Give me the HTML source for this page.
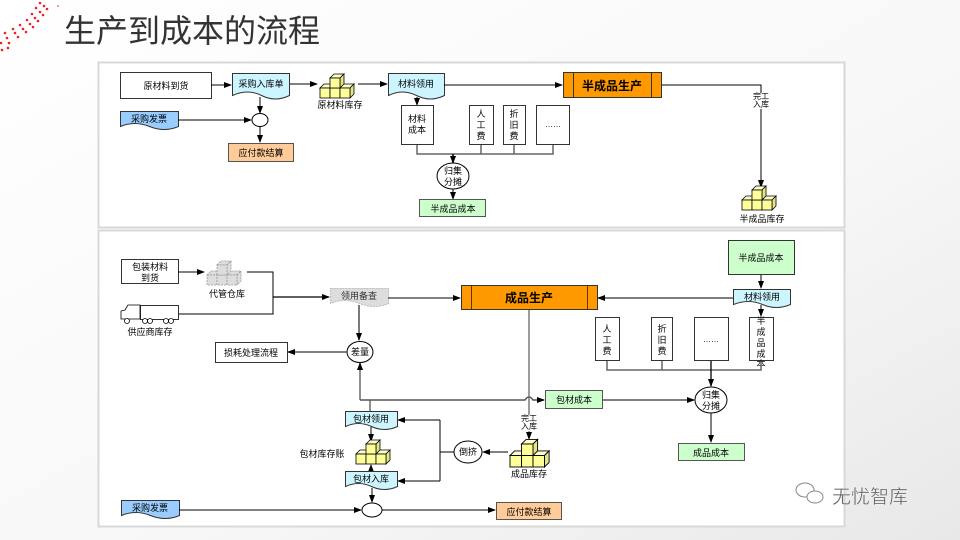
<!DOCTYPE html>
<html><head><meta charset="utf-8"><style>
html,body{margin:0;padding:0;width:960px;height:540px;overflow:hidden;background:#fff}
svg text{font-family:"Liberation Sans","Noto Sans CJK SC",sans-serif}
</style></head><body>
<svg width="960" height="540" viewBox="0 0 960 540" xmlns="http://www.w3.org/2000/svg">
<defs>
<linearGradient id="bg" x1="0" y1="0" x2="1" y2="1"><stop offset="0" stop-color="#ffffff"/><stop offset="0.6" stop-color="#f7f7f7"/><stop offset="1" stop-color="#e8e8e8"/></linearGradient>
<marker id="a" markerWidth="8" markerHeight="8" refX="7" refY="4" orient="auto" markerUnits="userSpaceOnUse"><path d="M0,1 L8,4 L0,7 z" fill="#000"/></marker>
<g id="cube"><g stroke="#000" stroke-width="0.8" fill="#ffff99">
<path d="M0,10 l4,-4 h30 l-4,4z" fill="#ffffcc"/><path d="M30,10 l4,-4 v10 l-4,4z" fill="#e6e680"/>
<rect x="0" y="10" width="10" height="10"/><rect x="10" y="10" width="10" height="10"/><rect x="20" y="10" width="10" height="10"/>
<path d="M10,0 l4,-4 h10 l-4,4z" fill="#ffffcc"/><path d="M20,0 l4,-4 v10 l-4,4z" fill="#e6e680"/>
<rect x="10" y="0" width="10" height="10"/></g></g>
<g id="cubeg"><g stroke="#999" stroke-width="0.8" stroke-dasharray="2,1" fill="#ddd">
<path d="M0,10 l4,-4 h30 l-4,4z"/><path d="M30,10 l4,-4 v10 l-4,4z"/>
<rect x="0" y="10" width="10" height="10"/><rect x="10" y="10" width="10" height="10"/><rect x="20" y="10" width="10" height="10"/>
<path d="M10,0 l4,-4 h10 l-4,4z"/><path d="M20,0 l4,-4 v10 l-4,4z"/><rect x="10" y="0" width="10" height="10"/></g></g>
</defs>
<rect width="960" height="540" fill="url(#bg)"/>
<g fill="#e8202a">
<circle cx="40" cy="3" r="1.3"/><circle cx="44" cy="6" r="1.3"/><circle cx="47" cy="9" r="1.3"/><circle cx="36" cy="8" r="1.3"/><circle cx="40" cy="12" r="1.3"/><circle cx="43" cy="15" r="1.3"/><circle cx="32" cy="14" r="1.3"/><circle cx="35" cy="18" r="1.3"/><circle cx="38" cy="21" r="1.3"/><circle cx="27" cy="20" r="1.3"/><circle cx="30" cy="24" r="1.3"/><circle cx="33" cy="27" r="1.3"/><circle cx="20" cy="25" r="1.3"/><circle cx="23" cy="29" r="1.3"/><circle cx="26" cy="32" r="1.3"/><circle cx="13" cy="29" r="1.3"/><circle cx="15" cy="33" r="1.3"/><circle cx="18" cy="37" r="1.3"/><circle cx="5" cy="33" r="1.3"/><circle cx="7" cy="38" r="1.3"/><circle cx="9" cy="43" r="1.3"/><circle cx="1" cy="43" r="1.3"/><circle cx="2" cy="50" r="1.3"/><circle cx="8" cy="48" r="1.3"/><circle cx="58" cy="6" r="0.8"/>
</g>
<text x="64" y="42" font-size="32" fill="#333">生产到成本的流程</text>
<rect x="98.5" y="62.5" width="746" height="165" fill="#fff" stroke="#d8d8d8" stroke-width="2"/>
<rect x="98.5" y="230.5" width="746" height="296" fill="#fff" stroke="#d8d8d8" stroke-width="2"/>

<g font-size="9" fill="#000" stroke-width="1">
<rect x="120.5" y="72.5" width="91" height="26" fill="#fff" stroke="#333"/>
<text x="166" y="89" text-anchor="middle">原材料到货</text>
<line x1="211" y1="85" x2="231" y2="85" stroke="#000" marker-end="url(#a)"/>
<path d="M232.5,73.5 h57 v22 q-14,7 -28,0 t-29,0z" fill="#ccf5ff" stroke="#333"/>
<text x="261" y="87" text-anchor="middle">采购入库单</text>
<line x1="290" y1="84" x2="317" y2="84" stroke="#000" marker-end="url(#a)"/>
<use href="#cube" x="320" y="78"/>
<text x="340" y="108" text-anchor="middle">原材料库存</text>
<line x1="358" y1="84" x2="387" y2="84" stroke="#000" marker-end="url(#a)"/>
<path d="M388.5,73.5 h56 v22 q-14,7 -28,0 t-28,0z" fill="#ccf5ff" stroke="#333"/>
<text x="416" y="87" text-anchor="middle">材料领用</text>
<line x1="444" y1="85" x2="562" y2="85" stroke="#000" marker-end="url(#a)"/>
<rect x="563.5" y="72.5" width="98" height="25" fill="#ff9900" stroke="#333"/>
<line x1="573.5" y1="73" x2="573.5" y2="97" stroke="#333"/><line x1="651.5" y1="73" x2="651.5" y2="97" stroke="#333"/>
<text x="612" y="90" text-anchor="middle" font-size="12" font-weight="bold">半成品生产</text>
<polyline points="662,85 761,85 761,93" fill="none" stroke="#000"/>
<text x="761" y="99" text-anchor="middle" font-size="8">完工</text>
<text x="761" y="107" text-anchor="middle" font-size="8">入库</text>
<line x1="761" y1="109" x2="761" y2="187" stroke="#000" marker-end="url(#a)"/>
<use href="#cube" x="742" y="190"/>
<text x="762" y="222" text-anchor="middle">半成品库存</text>
<path d="M120.5,111.5 h58 v15 q-14,6 -29,0 t-29,0z" fill="#99ccff" stroke="#333"/>
<text x="149" y="122" text-anchor="middle">采购发票</text>
<line x1="178" y1="120" x2="251" y2="120" stroke="#000" marker-end="url(#a)"/>
<line x1="260" y1="97" x2="260" y2="113" stroke="#000" marker-end="url(#a)"/>
<ellipse cx="260" cy="120" rx="8" ry="6.5" fill="#fff" stroke="#000"/>
<line x1="260" y1="126" x2="260" y2="142" stroke="#000" marker-end="url(#a)"/>
<rect x="228.5" y="143.5" width="65" height="18" fill="#ffcc99" stroke="#555"/>
<text x="261" y="156" text-anchor="middle">应付款结算</text>
<line x1="417" y1="97" x2="417" y2="105" stroke="#000" marker-end="url(#a)"/>
<rect x="401.5" y="105.5" width="32" height="39" fill="#fff" stroke="#333"/>
<text x="417" y="122" text-anchor="middle">材料</text><text x="417" y="133" text-anchor="middle">成本</text>
<rect x="469.5" y="105.5" width="24" height="39" fill="#fff" stroke="#333"/>
<text x="481" y="117" text-anchor="middle">人</text><text x="481" y="128" text-anchor="middle">工</text><text x="481" y="139" text-anchor="middle">费</text>
<rect x="503.5" y="105.5" width="22" height="39" fill="#fff" stroke="#333"/>
<text x="514" y="117" text-anchor="middle">折</text><text x="514" y="128" text-anchor="middle">旧</text><text x="514" y="139" text-anchor="middle">费</text>
<rect x="536.5" y="105.5" width="33" height="39" fill="#fff" stroke="#333"/>
<text x="553" y="127" text-anchor="middle" font-size="8">……</text>
<polyline points="417,145 417,154 553,154 553,145" fill="none" stroke="#666" stroke-width="1.5"/>
<line x1="481" y1="145" x2="481" y2="154" stroke="#666" stroke-width="1.5"/><line x1="514" y1="145" x2="514" y2="154" stroke="#666" stroke-width="1.5"/>
<line x1="453" y1="154" x2="453" y2="163" stroke="#000" stroke-width="1.5" marker-end="url(#a)"/>
<ellipse cx="453" cy="176" rx="16" ry="13" fill="#fff" stroke="#000"/>
<text x="453" y="174" text-anchor="middle">归集</text><text x="453" y="185" text-anchor="middle">分摊</text>
<line x1="453" y1="189" x2="453" y2="199" stroke="#000" marker-end="url(#a)"/>
<rect x="419.5" y="199.5" width="66" height="17" fill="#ccffcc" stroke="#555"/>
<text x="453" y="212" text-anchor="middle">半成品成本</text>

<rect x="121.5" y="259.5" width="57" height="24" fill="#fff" stroke="#333"/>
<text x="150" y="270" text-anchor="middle">包装材料</text><text x="150" y="281" text-anchor="middle">到货</text>
<line x1="178" y1="272" x2="204" y2="272" stroke="#000" marker-end="url(#a)"/>
<use href="#cubeg" x="207" y="265"/>
<text x="227" y="297" text-anchor="middle">代管仓库</text>
<polyline points="247,272 273,272 273,314 178,314" fill="none" stroke="#000"/>
<line x1="273" y1="297" x2="329" y2="297" stroke="#000" stroke-width="1.3" marker-end="url(#a)"/>
<g fill="#fff" stroke="#000" stroke-width="0.8">
<rect x="140.5" y="305.5" width="38" height="14"/>
<path d="M140,319 h-19 v-8 l4,-1 l3,-5 h12z"/>
<circle cx="127" cy="321" r="2.5"/><circle cx="145" cy="321" r="2.5"/><circle cx="150" cy="321" r="2.5"/><circle cx="166" cy="321" r="2.5"/><circle cx="171" cy="321" r="2.5"/>
</g>
<text x="150" y="335" text-anchor="middle">供应商库存</text>
<path d="M330.5,288.5 h58 v15 q-14,6 -29,0 t-29,0z" fill="#ddd" stroke="#bbb" stroke-dasharray="2,1"/>
<text x="359" y="299" text-anchor="middle" fill="#333">领用备查</text>
<line x1="388" y1="298" x2="460" y2="298" stroke="#000" marker-end="url(#a)"/>
<rect x="461.5" y="285.5" width="136" height="24" fill="#ff9900" stroke="#333"/>
<line x1="471.5" y1="286" x2="471.5" y2="309" stroke="#663300"/><line x1="587.5" y1="286" x2="587.5" y2="309" stroke="#663300"/>
<text x="529" y="302" text-anchor="middle" font-size="12" font-weight="bold">成品生产</text>
<line x1="359" y1="305" x2="359" y2="340" stroke="#333" stroke-width="1.3" marker-end="url(#a)"/>
<ellipse cx="360" cy="352" rx="13" ry="10.5" fill="#fff" stroke="#000"/>
<text x="360" y="355" text-anchor="middle">差量</text>
<line x1="347" y1="352" x2="288" y2="352" stroke="#333" stroke-width="1.3" marker-end="url(#a)"/>
<rect x="215.5" y="342.5" width="72" height="20" fill="#fff" stroke="#333"/>
<text x="251" y="356" text-anchor="middle">损耗处理流程</text>
<line x1="360" y1="400" x2="360" y2="363" stroke="#555" stroke-width="1.3" marker-end="url(#a)"/>
<path d="M360,400 H525 q4,-6 8,0 H544" fill="none" stroke="#555" stroke-width="1.5" marker-end="url(#a)"/>
<line x1="370" y1="400" x2="370" y2="411" stroke="#555" stroke-width="1.3"/>
<rect x="545.5" y="390.5" width="57" height="18" fill="#ccffcc" stroke="#555"/>
<text x="574" y="403" text-anchor="middle">包材成本</text>
<line x1="602" y1="400" x2="694" y2="400" stroke="#555" stroke-width="1.5" marker-end="url(#a)"/>
<line x1="529" y1="310" x2="529" y2="415" stroke="#666" stroke-width="1.3"/>
<text x="529" y="421" text-anchor="middle" font-size="8">完工</text>
<text x="529" y="429" text-anchor="middle" font-size="8">入库</text>
<line x1="529" y1="431" x2="529" y2="439" stroke="#555" marker-end="url(#a)"/>
<use href="#cube" transform="translate(510,444) scale(1.15)"/>
<text x="529" y="477" text-anchor="middle">成品库存</text>
<line x1="508" y1="452" x2="483" y2="452" stroke="#000" marker-end="url(#a)"/>
<ellipse cx="468" cy="452" rx="14" ry="11" fill="#fff" stroke="#000"/>
<text x="468" y="455" text-anchor="middle">倒挤</text>
<polyline points="454,452 440,452" stroke="#000" fill="none"/>
<polyline points="440,420 440,481" stroke="#000" fill="none"/>
<line x1="440" y1="420" x2="398" y2="420" stroke="#000" marker-end="url(#a)"/>
<line x1="440" y1="481" x2="398" y2="481" stroke="#000" marker-end="url(#a)"/>
<path d="M345.5,411.5 h52 v15 q-13,6 -26,0 t-26,0z" fill="#ccf5ff" stroke="#333"/>
<text x="371" y="422" text-anchor="middle">包材领用</text>
<line x1="371" y1="427" x2="371" y2="441" stroke="#000" marker-end="url(#a)"/>
<use href="#cube" x="356" y="444"/>
<text x="322" y="457" text-anchor="middle">包材库存账</text>
<line x1="371" y1="471" x2="371" y2="465" stroke="#000" marker-end="url(#a)"/>
<path d="M345.5,471.5 h52 v15 q-13,6 -26,0 t-26,0z" fill="#ccf5ff" stroke="#333"/>
<text x="371" y="482" text-anchor="middle">包材入库</text>
<line x1="372" y1="488" x2="372" y2="502" stroke="#000" marker-end="url(#a)"/>
<path d="M121.5,500.5 h58 v15 q-14,6 -29,0 t-29,0z" fill="#99ccff" stroke="#333"/>
<text x="150" y="511" text-anchor="middle">采购发票</text>
<line x1="179" y1="510" x2="361" y2="510" stroke="#000" marker-end="url(#a)"/>
<ellipse cx="372" cy="510" rx="10" ry="7" fill="#fff" stroke="#000"/>
<line x1="382" y1="510" x2="495" y2="510" stroke="#000" marker-end="url(#a)"/>
<rect x="496.5" y="502.5" width="65" height="17" fill="#ffcc99" stroke="#555"/>
<text x="529" y="515" text-anchor="middle">应付款结算</text>
<rect x="728.5" y="240.5" width="66" height="34" fill="#ccffcc" stroke="#333"/>
<text x="761" y="261" text-anchor="middle">半成品成本</text>
<line x1="761" y1="275" x2="761" y2="288" stroke="#000" marker-end="url(#a)"/>
<path d="M733.5,289.5 h57 v15 q-14,6 -28,0 t-29,0z" fill="#ccf5ff" stroke="#333"/>
<text x="762" y="300" text-anchor="middle">材料领用</text>
<line x1="733" y1="298" x2="598" y2="298" stroke="#333" stroke-width="1.3" marker-end="url(#a)"/>
<line x1="761" y1="305" x2="761" y2="316" stroke="#000" marker-end="url(#a)"/>
<rect x="595.5" y="317.5" width="24" height="43" fill="#fff" stroke="#333"/>
<text x="607" y="332" text-anchor="middle">人</text><text x="607" y="343" text-anchor="middle">工</text><text x="607" y="354" text-anchor="middle">费</text>
<rect x="651.5" y="317.5" width="21" height="43" fill="#fff" stroke="#333"/>
<text x="662" y="332" text-anchor="middle">折</text><text x="662" y="343" text-anchor="middle">旧</text><text x="662" y="354" text-anchor="middle">费</text>
<rect x="694.5" y="317.5" width="34" height="43" fill="#fff" stroke="#333"/>
<text x="711" y="342" text-anchor="middle" font-size="8">……</text>
<rect x="749.5" y="317.5" width="24" height="43" fill="#fff" stroke="#333"/>
<text x="761" y="324" text-anchor="middle">半</text><text x="761" y="335" text-anchor="middle">成</text><text x="761" y="346" text-anchor="middle">品</text><text x="761" y="357" text-anchor="middle">成</text><text x="761" y="367" text-anchor="middle">本</text>
<polyline points="607,361 607,370 761,370 761,361" fill="none" stroke="#666" stroke-width="1.5"/>
<line x1="662" y1="361" x2="662" y2="370" stroke="#666" stroke-width="1.5"/>
<line x1="711" y1="361" x2="711" y2="386" stroke="#000" stroke-width="1.3" marker-end="url(#a)"/>
<ellipse cx="711" cy="400" rx="16" ry="13" fill="#fff" stroke="#000"/>
<text x="711" y="398" text-anchor="middle">归集</text><text x="711" y="409" text-anchor="middle">分摊</text>
<line x1="711" y1="413" x2="711" y2="442" stroke="#000" marker-end="url(#a)"/>
<rect x="678.5" y="443.5" width="66" height="17" fill="#ccffcc" stroke="#555"/>
<text x="711" y="456" text-anchor="middle">成品成本</text>
</g>
<g fill="none" stroke="#888" stroke-width="1">
<ellipse cx="805" cy="490" rx="9" ry="7"/><ellipse cx="815" cy="497" rx="8" ry="6" fill="#fff"/>
</g>
<text x="832" y="503" font-size="19" fill="#666" stroke="#fff" stroke-width="0.3">无忧智库</text>
</svg>
</body></html>
